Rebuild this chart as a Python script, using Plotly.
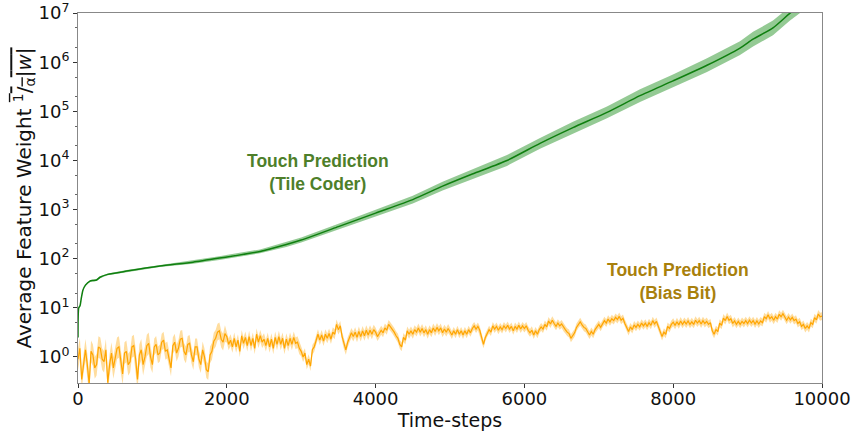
import plotly.graph_objects as go

# ---------------- data ----------------
# Touch Prediction (Tile Coder): mean average feature weight
tile_steps = [0, 10, 27, 45, 67, 100, 161, 200, 250, 296, 400, 655, 1100, 1546, 1900,
              2446, 2800, 3000, 3500, 4000, 4500, 4900, 5300, 5766, 6210, 6653,
              7110, 7554, 7997, 8454, 8898, 9073, 9341, 9570, 9700, 10000]
tile_mean = [2.5, 10, 11, 16, 23, 29, 35, 36, 37, 42, 48, 56, 71, 85, 103,
             141, 195, 240, 450, 850, 1600, 3000, 5300, 10000, 22400, 46800,
             95500, 209000, 417000, 870000, 1950000, 2950000, 5000000, 10000000,
             14000000, 30000000]
# half-width of the shaded band, in decades
tile_spread = [0.0, 0.01, 0.01, 0.01, 0.01, 0.02, 0.02, 0.02, 0.02, 0.02, 0.02, 0.02,
               0.02, 0.03, 0.04, 0.04, 0.05, 0.05, 0.06, 0.07, 0.08, 0.09, 0.10,
               0.11, 0.11, 0.12, 0.12, 0.13, 0.13, 0.14, 0.14, 0.15, 0.15, 0.15, 0.15, 0.15]

# Touch Prediction (Bias Bit): one value every 25 time-steps
bias_steps = list(range(0, 10001, 25))
bias_mean = [
    0.9, 1.5, 0.35, 0.8, 1.4, 0.7, 0.28, 1.3, 1.1, 0.6, 0.7, 1.6, 1.5, 0.9, 0.8, 1.4, 0.3, 0.7, 1.2, 0.6,
    0.9, 1.5, 1.6, 0.8, 0.45, 1.2, 1.3, 0.7, 0.8, 1.6, 1.7, 0.9, 0.35, 1.1, 1.4, 0.7, 1.0, 1.7, 1.9, 1.0,
    0.7, 1.6, 1.8, 1.1, 1.2, 2.0, 2.2, 1.3, 1.4, 0.9, 0.6, 1.7, 2.0, 1.2, 1.5, 2.3, 2.4, 1.3, 1.1, 1.8,
    1.9, 1.1, 0.8, 1.6, 1.6, 0.9, 0.7, 1.4, 1.0, 0.55, 0.5, 1.1, 1.3, 2.1, 2.4, 3.2, 3.4, 2.3, 2.0, 3.0,
    2.6, 1.8, 2.2, 1.6, 2.4, 1.6, 2.2, 1.3, 2.7, 1.9, 2.5, 1.7, 2.6, 1.7, 2.4, 1.5, 2.9, 2.0, 2.7, 2.0,
    2.3, 1.7, 2.4, 1.6, 2.3, 1.5, 2.5, 1.8, 2.6, 1.8, 2.4, 1.5, 2.3, 1.7, 2.4, 1.8, 2.5, 1.9, 2.0, 1.5,
    1.3, 1.0, 1.2, 0.7, 0.9, 0.65, 1.4, 1.6, 2.2, 2.9, 2.2, 2.8, 2.1, 2.9, 2.4, 3.0, 2.3, 3.2, 2.9, 4.6,
    3.6, 4.3, 2.6, 1.8, 1.4, 2.0, 2.5, 3.1, 2.6, 3.2, 2.5, 3.3, 2.6, 3.4, 2.7, 3.5, 2.8, 3.5, 2.9, 3.6,
    3.2, 2.6, 3.0, 3.5, 3.1, 3.9, 3.5, 4.6, 4.1, 3.7, 3.2, 2.7, 2.4, 1.8, 1.6, 2.5, 2.2, 3.4, 2.9, 3.4,
    2.9, 3.6, 3.2, 3.9, 3.2, 3.8, 3.1, 3.6, 2.9, 3.6, 3.1, 3.9, 3.3, 4.0, 3.4, 3.9, 3.1, 3.7, 3.2, 3.8,
    3.3, 2.8, 3.4, 2.9, 3.6, 2.9, 3.4, 2.8, 3.4, 2.9, 3.6, 3.1, 3.8, 4.3, 3.7, 4.2, 3.5, 2.4, 1.8, 2.5,
    3.1, 3.6, 3.2, 4.3, 3.7, 4.2, 3.5, 4.1, 3.6, 4.3, 3.8, 4.4, 3.7, 4.2, 3.4, 4.2, 3.7, 4.4, 3.7, 4.3,
    3.8, 4.3, 3.5, 3.1, 3.5, 2.8, 3.4, 2.9, 3.6, 4.1, 3.7, 4.6, 4.1, 5.4, 4.7, 5.6, 4.8, 4.2, 4.9, 4.3,
    4.7, 4.0, 3.6, 3.2, 3.0, 2.4, 2.8, 3.1, 4.0, 4.7, 5.2, 4.5, 4.0, 3.8, 3.2, 2.8, 3.3, 2.9, 3.6, 4.0,
    4.6, 4.0, 4.8, 5.5, 4.9, 5.9, 5.2, 6.0, 5.5, 6.4, 5.8, 6.7, 5.6, 6.1, 4.8, 4.1, 3.3, 4.1, 3.6, 4.5,
    4.0, 4.6, 4.1, 4.9, 4.3, 4.9, 4.2, 5.0, 4.4, 5.5, 4.7, 5.3, 4.2, 3.2, 2.6, 3.2, 2.9, 4.2, 3.8, 4.6,
    5.1, 4.4, 5.2, 4.5, 5.4, 4.6, 5.3, 4.7, 5.4, 4.6, 5.2, 4.6, 5.6, 4.9, 5.5, 4.7, 5.5, 4.8, 5.3, 4.6,
    5.0, 3.4, 2.9, 3.6, 3.3, 4.9, 4.4, 6.2, 5.5, 6.7, 5.6, 6.0, 4.8, 5.4, 4.6, 5.3, 4.6, 5.3, 4.8, 5.5,
    4.8, 5.6, 4.9, 5.5, 4.7, 5.4, 4.7, 5.4, 5.0, 6.6, 6.0, 7.2, 6.0, 6.6, 5.6, 6.6, 5.9, 7.4, 6.6, 7.6,
    6.4, 5.6, 6.5, 5.7, 6.4, 5.5, 5.9, 4.8, 5.2, 4.2, 4.6, 3.8, 4.3, 3.8, 5.0, 4.6, 6.3, 5.7, 7.5, 6.6,
    6.8,
]
# band half-width (decades) for each 1000-step block
bias_block_spread = [0.22, 0.17, 0.12, 0.10, 0.09, 0.08, 0.08, 0.08, 0.08, 0.08, 0.08]

x_ticks = [0, 2000, 4000, 6000, 8000, 10000]
y_tick_exps = [0, 1, 2, 3, 4, 5, 6, 7]

# ---------------- build bands ----------------
tile_upper = [m * 10 ** s for m, s in zip(tile_mean, tile_spread)]
tile_lower = [m / 10 ** s for m, s in zip(tile_mean, tile_spread)]
bias_sp = [bias_block_spread[min(t // 1000, 10)] for t in bias_steps]
bias_upper = [m * 10 ** s for m, s in zip(bias_mean, bias_sp)]
bias_lower = [m / 10 ** s for m, s in zip(bias_mean, bias_sp)]

fig = go.Figure()

fig.add_trace(go.Scatter(x=tile_steps + tile_steps[::-1], y=tile_upper + tile_lower[::-1],
                         fill="toself", fillcolor="rgba(0,128,0,0.42)",
                         line=dict(width=0), hoverinfo="skip", showlegend=False))
fig.add_trace(go.Scatter(x=tile_steps, y=tile_mean, mode="lines", line_shape="spline",
                         line=dict(color="#0f7f0f", width=1.5, smoothing=0.6), showlegend=False))
fig.add_trace(go.Scatter(x=bias_steps + bias_steps[::-1], y=bias_upper + bias_lower[::-1],
                         fill="toself", fillcolor="rgba(255,165,0,0.38)",
                         line=dict(width=0), hoverinfo="skip", showlegend=False))
fig.add_trace(go.Scatter(x=bias_steps, y=bias_mean, mode="lines",
                         line=dict(color="#FFA500", width=1.2), showlegend=False))

tick_font = dict(family="DejaVu Sans", size=18, color="#111111")

fig.update_xaxes(range=[0, 10000], tickvals=x_ticks, ticktext=[str(v) for v in x_ticks],
                 ticks="outside", ticklen=4, tickcolor="#333", tickfont=tick_font,
                 ticklabelstandoff=-5,
                 showgrid=False, zeroline=False, showline=True, linecolor="#888888",
                 linewidth=1, mirror=True, automargin=False,
                 title=dict(text="Time-steps", font=dict(family="DejaVu Sans", size=19, color="#111"),
                            standoff=0))
fig.update_yaxes(type="log", range=[-0.53, 7.003], tickvals=[10 ** e for e in y_tick_exps],
                 ticktext=["10<sup>%d</sup>" % e for e in y_tick_exps],
                 ticks="outside", ticklen=4, tickcolor="#333", tickfont=tick_font,
                 ticklabeloverflow="allow",
                 minor=dict(ticks="outside", ticklen=2, tickcolor="#666", showgrid=False),
                 showgrid=False, zeroline=False, showline=True, linecolor="#888888",
                 linewidth=1, mirror=True, automargin=False,
                 title=dict(text="Average Feature Weight <span style='text-decoration:overline'><sup>1</sup>/<sub>α</sub>|<i>w</i>|</span>",
                            font=dict(family="DejaVu Sans", size=20, color="#111"), standoff=0))

fig.add_annotation(x=3226, y=3.76, xref="x", yref="y", yanchor="middle",
                   text="<b>Touch Prediction<br>(Tile Coder)</b>", showarrow=False,
                   font=dict(family="Liberation Sans", size=17.5, color="#4E7F2A"))
fig.add_annotation(x=8065, y=1.53, xref="x", yref="y", yanchor="middle",
                   text="<b>Touch Prediction<br>(Bias Bit)</b>", showarrow=False,
                   font=dict(family="Liberation Sans", size=17.5, color="#A8800C"))

fig.update_layout(width=853, height=433, margin=dict(l=78, r=31, t=13, b=50),
                  plot_bgcolor="white", paper_bgcolor="white")

fig.write_html("out.html")
